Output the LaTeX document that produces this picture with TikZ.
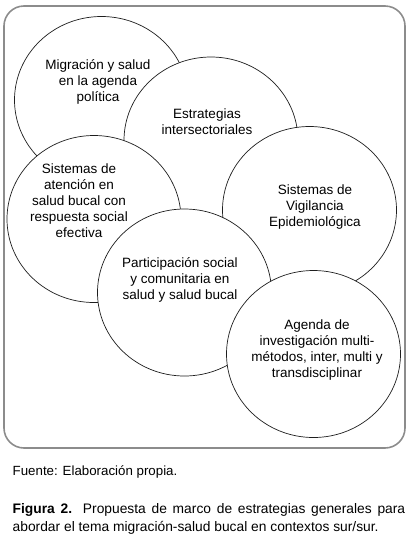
\documentclass[tikz,border=0pt]{standalone}
\usepackage{fontspec}
\setmainfont{Liberation Sans}
\usetikzlibrary{shapes.geometric,positioning}
\definecolor{framegray}{RGB}{140,140,140}
\definecolor{inkgray}{RGB}{30,30,30}

\tikzset{
  bubble/.style={ellipse, draw=inkgray, line width=0.7pt, fill=white,
    minimum width=174pt, minimum height=167pt, inner sep=0pt},
  bubbletext/.style={align=center, font=\fontsize{13.5}{16}\selectfont},
  captext/.style={font=\fontsize{13.3}{18}\selectfont}
}

\begin{document}
\begin{tikzpicture}[x=1pt, y=-1pt]
        \useasboundingbox (0,0) rectangle (411,536);

        % Outer frame
        \draw[framegray, line width=1.6pt, rounded corners=20pt] (4,6) rectangle (405,448);

        % Bubbles, back to front
        \node[bubble] (mig) at (101.5,100) {};
        \node[bubble] (est) at (211,140.5) {};
        \node[bubble] (ate) at (94,219) {};
        \node[bubble] (vig) at (309.5,210) {};
        \node[bubble] (par) at (184.5,292.5) {};
        \node[bubble] (inv) at (313.5,354) {};

        % Bubble texts
        \node[bubbletext] (migtxt) at (98,82) {Migración y salud\\en la agenda\\política};
        \node[bubbletext] (esttxt) at (207,122) {Estrategias\\intersectoriales};
        \node[bubbletext] (atetxt) at (79,201) {Sistemas de\\atención en\\salud bucal con\\respuesta social\\efectiva};
        \node[bubbletext] (vigtxt) at (315,207) {Sistemas de\\Vigilancia\\Epidemiológica};
        \node[bubbletext] (partxt) at (180,280) {Participación social\\y comunitaria en\\salud y salud bucal};
        \node[bubbletext] (invtxt) at (317,350) {Agenda de\\investigación multi-\\métodos, inter, multi y\\transdisciplinar};

        % Source and caption
        \node[captext, anchor=base west, inner sep=0pt] (fuente) at (12.5,475) {Fuente: Elaboración propia.};
        \node[captext, font=\fontsize{13.8}{18}\selectfont, anchor=north west, inner sep=0pt, text width=392.5pt, align=justify] (caption) at (12.5,503)
          {\hyphenpenalty=10000\exhyphenpenalty=10000
           \textbf{Figura 2.} Propuesta de marco de estrategias generales para abordar el tema migración-salud bucal en contextos sur/sur.};
    \end{tikzpicture}
\end{document}
